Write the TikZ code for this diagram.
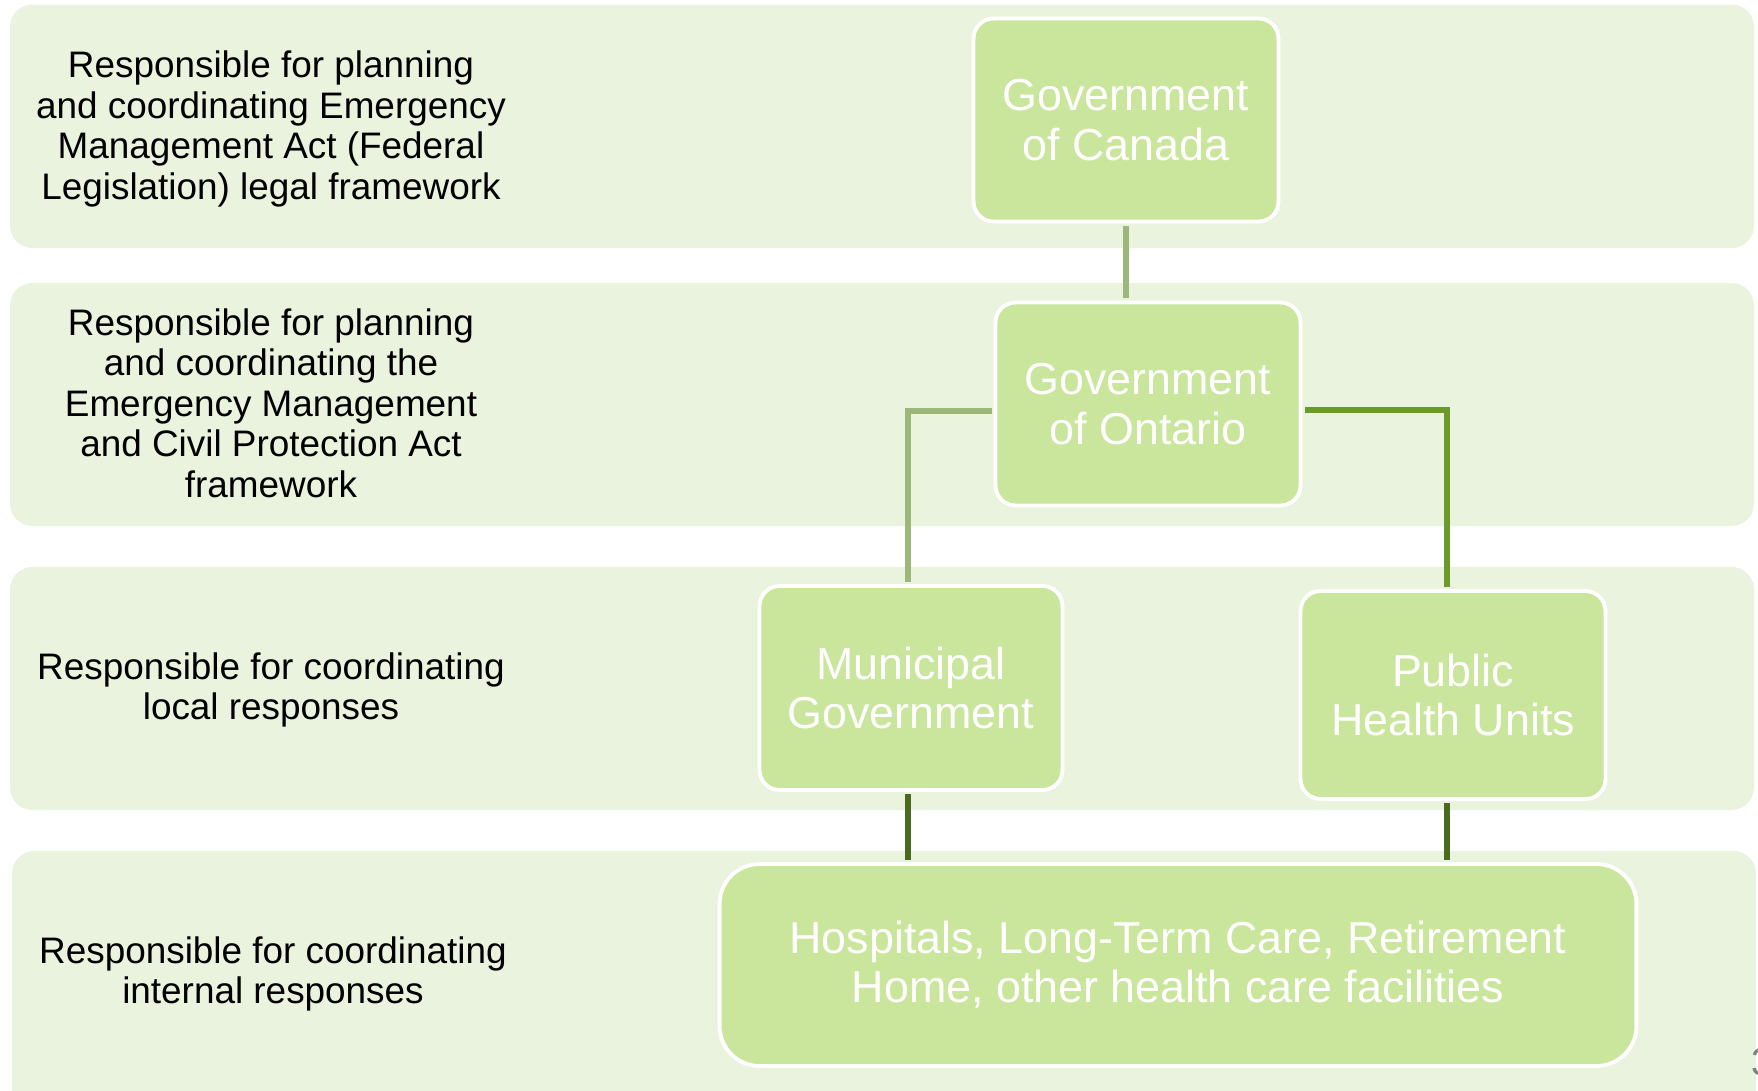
\documentclass[tikz,border=0pt]{standalone}
\usepackage{fontspec}
\setmainfont{Liberation Sans}
\usetikzlibrary{positioning}
\definecolor{bandfill}{HTML}{EAF3DE}
\definecolor{boxfill}{HTML}{CAE59C}
\definecolor{linklight}{HTML}{9DB77A}
\definecolor{linkmid}{HTML}{6C9A2A}
\definecolor{linkdark}{HTML}{4A6B1F}
\tikzset {
  band/.style = {
    fill = bandfill,
    rounded corners = 0.45cm
  },
  % description on the left of each band
  role/.style = {
    align = center,
    text = black,
    font = \fontsize{21}{23}\selectfont
  },
  % organisation box
  unit/.style = {
    draw = white,
    line width = 2.2pt,
    fill = boxfill,
    rounded corners = 0.4cm,
    text = white,
    align = center,
    font = \fontsize{25.5}{28}\selectfont,
    minimum width = 6.1cm,
    minimum height = 4.06cm
  },
  link/.style = {
    line width = 3pt,
    shorten < = 1.2pt,
    shorten > = 1.2pt
  },
  link light/.style = {link, draw = linklight},
  link mid/.style = {link, draw = linkmid, line width = 3.5pt},
  link dark/.style = {link, draw = linkdark}
}
\begin{document}
\begin{tikzpicture}[x=0.02cm, y=-0.02cm]
    \useasboundingbox (0,0) rectangle (1758,1090);

    % bands
    \fill[band] (10,4.5) rectangle (1754,248);
    \fill[band] (10,283) rectangle (1754,526);
    \fill[band] (10,567) rectangle (1754,810);
    \fill[band] (12,851) rectangle (1756,1120);

    \node[role] (role-federal) at (271,129) {Responsible for planning\\and coordinating Emergency\\Management Act (Federal\\Legislation) legal framework};
    \node[role] (role-province) at (271,403) {Responsible for planning\\and coordinating the\\Emergency Management\\and Civil Protection Act\\framework};
    \node[role] (role-local) at (271,690) {Responsible for coordinating\\local responses};
    \node[role] (role-internal) at (273,974) {Responsible for coordinating\\internal responses};

    \node[unit] (canada) at (1126,120) {Government\\of Canada};
    \node[unit] (ontario) at (1148,404) {Government\\of Ontario};
    \node[unit, minimum width = 6.06cm, minimum height = 4.08cm] (municipal) at (911,688) {Municipal\\Government};
    \node[unit, minimum height = 4.16cm] (health) at (1453,695) {Public\\Health Units};
    \node[unit, minimum width = 18.34cm, minimum height = 4.04cm, rounded corners = 0.8cm] (facilities) at (1178,965) {Hospitals, Long-Term Care, Retirement\\Home, other health care facilities};

    \node[text = gray, font = \fontsize{22}{24}\selectfont, anchor = west] (page) at (1745,1062) {3};

    \draw[link light] (canada.south) -- (canada.south |- ontario.north);
    \draw[link light] ([yshift=-0.14cm]ontario.west) -| ([xshift=-0.06cm]municipal.north);
    \draw[link mid] ([yshift=-0.12cm]ontario.east) -| ([xshift=-0.12cm]health.north);
    \draw[link dark] ([xshift=-0.06cm]municipal.south) -- ([xshift=-0.06cm]municipal.south |- facilities.north);
    \draw[link dark] ([xshift=-0.12cm]health.south) -- ([xshift=-0.12cm]health.south |- facilities.north);
\end{tikzpicture}
\end{document}
